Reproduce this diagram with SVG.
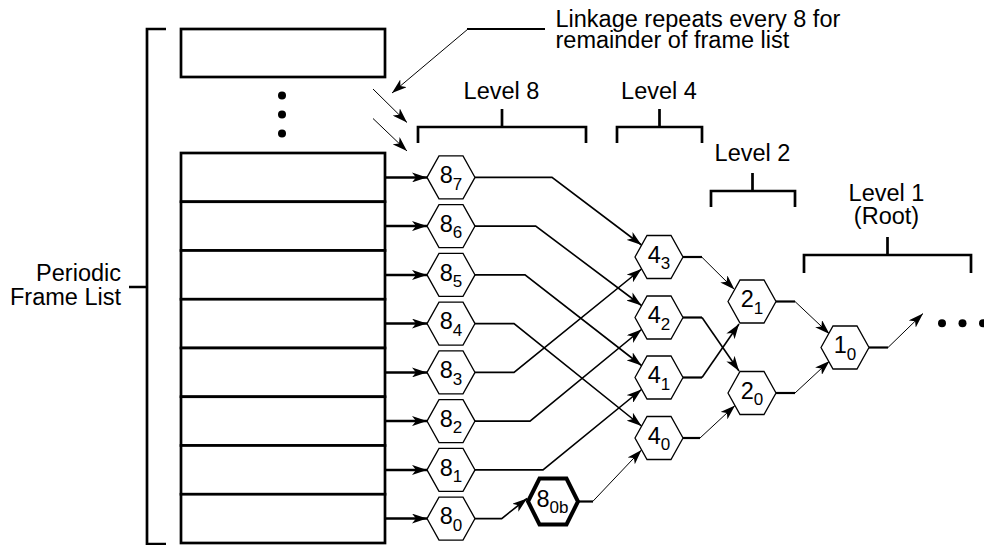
<svg xmlns="http://www.w3.org/2000/svg" xmlns:xlink="http://www.w3.org/1999/xlink" width="984" height="545" viewBox="0 0 984 545">
<style>
.t{font-family:"Liberation Sans",Arial,Helvetica,sans-serif;fill:#000}
.lbl{font-size:23.5px}
.big{font-size:23.5px}
.sub{font-size:17px}
.hex{fill:#fff;stroke:#000;stroke-width:1.3}
.hexb{fill:#fff;stroke:#000;stroke-width:4}
.box{fill:#fff;stroke:#000;stroke-width:2.7}
.br{fill:none;stroke:#000;stroke-width:2.7}
.in{fill:none;stroke:#000;stroke-width:2.5;marker-end:url(#ah)}
.c{fill:none;stroke:#000;stroke-width:1.6;marker-end:url(#ah)}
.h{fill:none;stroke:#000;stroke-width:2.2}
.d{fill:none;stroke:#000;stroke-width:1;marker-end:url(#ah)}
</style>
<defs>
<marker id="ah" markerUnits="userSpaceOnUse" viewBox="0 0 15 10" refX="15" refY="5" markerWidth="15" markerHeight="10" orient="auto">
<path d="M0,0 L15,5 L0,10 L4,5 Z" fill="#000"/>
</marker>
<polygon id="hx" points="-24,0 -12,-21.5 12,-21.5 24,0 12,21.5 -12,21.5"/>
</defs>

<g id="frame-list">
<path class="br" d="M166,29 H147 V544 H166 M129,287 H147"/>
<rect class="box" x="181" y="29" width="204" height="48"/>
<circle cx="282" cy="95.5" r="4"/>
<circle cx="282" cy="114.5" r="4"/>
<circle cx="282" cy="133.5" r="4"/>
<rect class="box" x="181" y="153" width="204" height="48.75"/>
<rect class="box" x="181" y="201.75" width="204" height="48.75"/>
<rect class="box" x="181" y="250.5" width="204" height="48.75"/>
<rect class="box" x="181" y="299.25" width="204" height="48.75"/>
<rect class="box" x="181" y="348" width="204" height="48.75"/>
<rect class="box" x="181" y="396.75" width="204" height="48.75"/>
<rect class="box" x="181" y="445.5" width="204" height="48.75"/>
<rect class="box" x="181" y="494.25" width="204" height="48.75"/>
<text class="t lbl" text-anchor="end" x="121" y="281">Periodic</text>
<text class="t lbl" text-anchor="end" x="121" y="304.5">Frame List</text>
</g>

<g id="note">
<text class="t lbl" x="555.5" y="26.5">Linkage repeats every 8 for</text>
<text class="t lbl" x="555.5" y="48">remainder of frame list</text>
</g>

<g id="levels">
<path class="br" d="M418,143 V127 H586 V143 M502,127 V109"/>
<text class="t lbl" text-anchor="middle" x="501.5" y="99">Level 8</text>
<path class="br" d="M617,143 V127 H702 V143 M659.5,127 V109"/>
<text class="t lbl" text-anchor="middle" x="659" y="99">Level 4</text>
<path class="br" d="M711,207 V191 H795 V207 M752.5,191 V173"/>
<text class="t lbl" text-anchor="middle" x="752.5" y="161">Level 2</text>
<path class="br" d="M804,273 V255 H971 V273 M887.5,255 V237"/>
<text class="t lbl" text-anchor="middle" x="886.5" y="201">Level 1</text>
<text class="t lbl" text-anchor="middle" x="886.5" y="223.5">(Root)</text>
</g>

<g id="connectors">
<line class="d" x1="468" y1="29" x2="392" y2="93"/>
<line class="h" x1="467" y1="29" x2="545" y2="29"/>
<line class="d" x1="373" y1="89" x2="407" y2="122.5"/>
<line class="d" x1="373" y1="118.5" x2="407" y2="151"/>

<line class="in" x1="385" y1="177.4" x2="427" y2="177.4"/>
<line class="in" x1="385" y1="226.1" x2="427" y2="226.1"/>
<line class="in" x1="385" y1="274.9" x2="427" y2="274.9"/>
<line class="in" x1="385" y1="323.6" x2="427" y2="323.6"/>
<line class="in" x1="385" y1="372.4" x2="427" y2="372.4"/>
<line class="in" x1="385" y1="421.1" x2="427" y2="421.1"/>
<line class="in" x1="385" y1="469.9" x2="427" y2="469.9"/>
<line class="in" x1="385" y1="518.6" x2="427" y2="518.6"/>

<polyline class="c" points="475,177.4 552,177.4 641.5,245"/>
<polyline class="c" points="475,226.1 535.7,226.1 641.5,305.5"/>
<polyline class="c" points="475,274.9 525,274.9 641.5,365.5"/>
<polyline class="c" points="475,323.6 514,323.6 641.5,426"/>
<polyline class="c" points="475,372.4 514,372.4 641.5,269"/>
<polyline class="c" points="475,421.1 530,421.1 641.5,329.5"/>
<polyline class="c" points="475,469.9 543,469.9 641.5,389.5"/>
<polyline class="c" points="475,518.6 501.7,518.6 527,498.5"/>

<line class="h" x1="578" y1="501.5" x2="593" y2="501.5"/>
<line class="d" x1="592.7" y1="501.5" x2="641.5" y2="450"/>

<line class="h" x1="683" y1="257" x2="702" y2="257"/>
<line class="d" x1="701.7" y1="257" x2="734.5" y2="289.5"/>
<line class="h" x1="683" y1="317.5" x2="702" y2="317.5"/>
<polyline class="c" points="702,317.5 739,371"/>
<line class="h" x1="683" y1="377.5" x2="702" y2="377.5"/>
<polyline class="c" points="702,377.5 739,324"/>
<line class="h" x1="683" y1="438" x2="700" y2="438"/>
<line class="d" x1="700" y1="438" x2="735" y2="405.5"/>

<line class="h" x1="776" y1="301.5" x2="795" y2="301.5"/>
<line class="d" x1="795" y1="301.5" x2="829.5" y2="334"/>
<line class="h" x1="776" y1="393" x2="795" y2="393"/>
<line class="d" x1="795" y1="393" x2="829.5" y2="361"/>
<line class="h" x1="869" y1="347.5" x2="888" y2="347.5"/>
<line class="d" x1="888" y1="347.5" x2="923" y2="313.5"/>

<circle cx="942" cy="323.3" r="4"/>
<circle cx="962.5" cy="323.3" r="4"/>
<circle cx="983" cy="323.3" r="4"/>
</g>

<g id="n8_7"><use xlink:href="#hx" class="hex" x="451" y="177.4"/><text class="t big" text-anchor="middle" x="451" y="183.2">8<tspan class="sub" dy="6.3">7</tspan></text></g>
<g id="n8_6"><use xlink:href="#hx" class="hex" x="451" y="226.1"/><text class="t big" text-anchor="middle" x="451" y="231.9">8<tspan class="sub" dy="6.3">6</tspan></text></g>
<g id="n8_5"><use xlink:href="#hx" class="hex" x="451" y="274.9"/><text class="t big" text-anchor="middle" x="451" y="280.7">8<tspan class="sub" dy="6.3">5</tspan></text></g>
<g id="n8_4"><use xlink:href="#hx" class="hex" x="451" y="323.6"/><text class="t big" text-anchor="middle" x="451" y="329.4">8<tspan class="sub" dy="6.3">4</tspan></text></g>
<g id="n8_3"><use xlink:href="#hx" class="hex" x="451" y="372.4"/><text class="t big" text-anchor="middle" x="451" y="378.2">8<tspan class="sub" dy="6.3">3</tspan></text></g>
<g id="n8_2"><use xlink:href="#hx" class="hex" x="451" y="421.1"/><text class="t big" text-anchor="middle" x="451" y="426.9">8<tspan class="sub" dy="6.3">2</tspan></text></g>
<g id="n8_1"><use xlink:href="#hx" class="hex" x="451" y="469.9"/><text class="t big" text-anchor="middle" x="451" y="475.7">8<tspan class="sub" dy="6.3">1</tspan></text></g>
<g id="n8_0"><use xlink:href="#hx" class="hex" x="451" y="518.6"/><text class="t big" text-anchor="middle" x="451" y="524.4">8<tspan class="sub" dy="6.3">0</tspan></text></g>

<g id="n8_0b"><polygon class="hexb" points="528,501.5 539.5,478.5 566.5,478.5 578,501.5 566.5,524.5 539.5,524.5"/><text class="t big" text-anchor="middle" x="552.5" y="507">8<tspan class="sub" dy="5.5">0b</tspan></text></g>

<g id="n4_3"><use xlink:href="#hx" class="hex" x="659" y="257"/><text class="t big" text-anchor="middle" x="659" y="262.8">4<tspan class="sub" dy="6.3">3</tspan></text></g>
<g id="n4_2"><use xlink:href="#hx" class="hex" x="659" y="317.5"/><text class="t big" text-anchor="middle" x="659" y="323.3">4<tspan class="sub" dy="6.3">2</tspan></text></g>
<g id="n4_1"><use xlink:href="#hx" class="hex" x="659" y="377.5"/><text class="t big" text-anchor="middle" x="659" y="383.3">4<tspan class="sub" dy="6.3">1</tspan></text></g>
<g id="n4_0"><use xlink:href="#hx" class="hex" x="659" y="438"/><text class="t big" text-anchor="middle" x="659" y="443.8">4<tspan class="sub" dy="6.3">0</tspan></text></g>

<g id="n2_1"><use xlink:href="#hx" class="hex" x="752" y="301.5"/><text class="t big" text-anchor="middle" x="752" y="307.3">2<tspan class="sub" dy="6.3">1</tspan></text></g>
<g id="n2_0"><use xlink:href="#hx" class="hex" x="752" y="393"/><text class="t big" text-anchor="middle" x="752" y="398.8">2<tspan class="sub" dy="6.3">0</tspan></text></g>

<g id="n1_0"><use xlink:href="#hx" class="hex" x="845" y="347.5"/><text class="t big" text-anchor="middle" x="845" y="353.3">1<tspan class="sub" dy="6.3">0</tspan></text></g>
</svg>
